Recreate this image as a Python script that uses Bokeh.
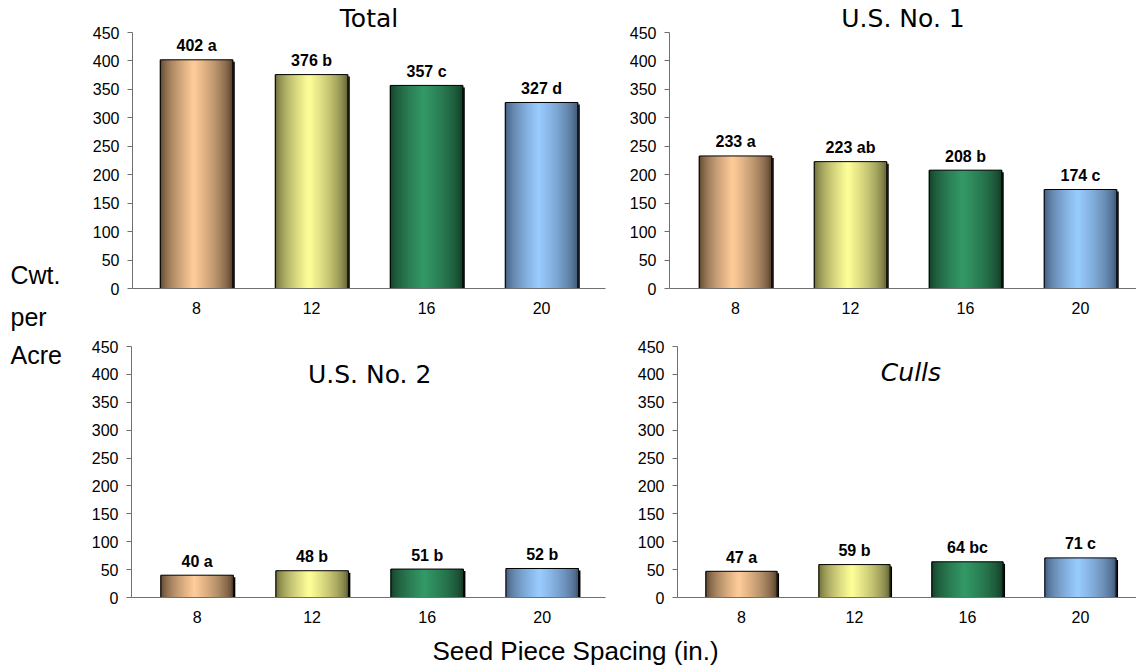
from bokeh.plotting import figure
from bokeh.models import ColumnDataSource, Range1d, FixedTicker, SingleIntervalTicker, Label
from bokeh.layouts import row, column
from bokeh.embed import file_html
from bokeh.resources import INLINE
from bokeh.core.properties import value

# ---------------- data ----------------
spacing = ["8", "12", "16", "20"]
total = [402, 376, 357, 327]
total_sig = ["a", "b", "c", "d"]
us1 = [233, 223, 208, 174]
us1_sig = ["a", "ab", "b", "c"]
us2 = [40, 48, 51, 52]
us2_sig = ["a", "b", "b", "b"]
culls = [47, 59, 64, 71]
culls_sig = ["a", "b", "bc", "c"]
titles = ["Total", "U.S. No. 1", "U.S. No. 2", "Culls"]
y_label_lines = ["Cwt.", "per", "Acre"]
x_label = "Seed Piece Spacing (in.)"
y_max = 450

# ---------------- style ----------------
center_colors = [(255, 204, 153), (255, 255, 153), (51, 153, 102), (153, 204, 255)]
edge_colors = [(76, 57, 38), (92, 92, 48), (18, 55, 36), (60, 82, 112)]
BW = 0.63
NSLICE = 40
AXIS_COLOR = "#707070"
TICK_FONT = "Liberation Sans"
TITLE_FONT = "DejaVu Sans"


def shade(i, t):
    c = center_colors[i]
    e = edge_colors[i]
    peak = 0.47
    d = abs(t - peak) / (peak if t < peak else 1 - peak)
    w = max(0.0, 1 - d) ** 0.6
    r, g, b = (int(round(e[k] + (c[k] - e[k]) * w)) for k in range(3))
    return "#%02x%02x%02x" % (r, g, b)


def panel(vals, sigs, title, italic, width, height, bl, br, bt, bb, x0, x1, title_y=None):
    p = figure(width=width, height=height, x_range=Range1d(x0, x1), y_range=Range1d(0, y_max),
               output_backend="svg", toolbar_location=None, tools="",
               min_border_left=bl, min_border_right=br, min_border_top=bt, min_border_bottom=bb)
    p.outline_line_color = None
    p.xgrid.visible = False
    p.ygrid.visible = False
    p.background_fill_color = "white"
    p.border_fill_color = "white"

    fw = width - bl - br
    fh = height - bt - bb
    dx = 2.0 * (x1 - x0) / fw
    dy = 2.0 * y_max / fh
    idx = list(range(len(vals)))

    # shadow
    p.vbar(x=[i + dx for i in idx], top=[v - dy for v in vals], bottom=0, width=BW,
           fill_color="black", line_color=None)

    # gradient slices
    xs, tops, cols = [], [], []
    for i, v in enumerate(vals):
        for j in range(NSLICE):
            t = (j + 0.5) / NSLICE
            xs.append(i - BW / 2 + t * BW)
            tops.append(v)
            cols.append(shade(i, t))
    src = ColumnDataSource(dict(x=xs, top=tops, color=cols))
    p.vbar(x="x", top="top", bottom=0, width=BW / NSLICE * 1.6, fill_color="color",
           line_color=None, source=src)

    # outline
    p.vbar(x=idx, top=vals, bottom=0, width=BW, fill_color=None, line_color="black", line_width=1)

    # value labels
    p.text(x=idx, y=vals, text=["%d %s" % (v, s) for v, s in zip(vals, sigs)],
           text_align="center", text_baseline="middle", y_offset=-14,
           text_font=value("Liberation Sans"), text_font_style="bold",
           text_font_size="16px", text_color="black")

    # title
    style = "italic" if italic else "normal"
    if title_y is None:
        p.title.text = title
        p.title.align = "center"
        p.title.text_font = TITLE_FONT
        p.title.text_font_size = "25px"
        p.title.text_font_style = style
        p.title.text_color = "black"
        p.title.standoff = 0
    else:
        p.add_layout(Label(x=(len(vals) - 1) / 2, y=title_y, text=title,
                           text_align="center", text_baseline="middle",
                           text_font=TITLE_FONT, text_font_size="25px",
                           text_font_style=style, text_color="black"))

    # axes
    p.yaxis.ticker = SingleIntervalTicker(interval=50)
    p.yaxis.minor_tick_line_color = None
    p.yaxis.major_tick_out = 5
    p.yaxis.major_tick_in = 0
    p.yaxis.major_label_standoff = 8
    p.xaxis.ticker = FixedTicker(ticks=idx)
    p.xaxis.major_label_overrides = {i: s for i, s in enumerate(spacing)}
    p.xaxis.major_tick_out = 0
    p.xaxis.major_tick_in = 0
    p.xaxis.minor_tick_line_color = None
    p.xaxis.major_label_standoff = 13
    for ax in (p.xaxis[0], p.yaxis[0]):
        ax.axis_line_color = AXIS_COLOR
        ax.major_tick_line_color = AXIS_COLOR
        ax.major_label_text_font = TICK_FONT
        ax.major_label_text_font_size = "16px"
        ax.major_label_text_color = "black"
    return p


f1 = panel(total, total_sig, titles[0], False, 532, 320, 52, 7, 32, 32, -0.557, 3.556)
f2 = panel(us1, us1_sig, titles[1], False, 524, 320, 57, 0, 32, 32, -0.574, 3.487)
f3 = panel(us2, us2_sig, titles[2], False, 532, 310, 51, 7, 26, 33, -0.570, 3.550, 400)
f4 = panel(culls, culls_sig, titles[3], True, 524, 310, 65, 0, 24, 33, -0.566, 3.496, 404)

# left axis title
fl = figure(width=80, height=630, x_range=Range1d(0, 80), y_range=Range1d(630, 0),
            output_backend="svg", toolbar_location=None, tools="",
            x_axis_type=None, y_axis_type=None,
            min_border_left=0, min_border_right=0, min_border_top=0, min_border_bottom=0)
fl.outline_line_color = None
fl.text(x=[10, 10, 10], y=[274, 316, 354], text=y_label_lines, text_align="left",
        text_baseline="middle", text_font=value("Liberation Sans"),
        text_font_size="25px", text_color="black")

# bottom axis title
fb = figure(width=1136, height=36, x_range=Range1d(0, 1136), y_range=Range1d(36, 0),
            output_backend="svg", toolbar_location=None, tools="",
            x_axis_type=None, y_axis_type=None,
            min_border_left=0, min_border_right=0, min_border_top=0, min_border_bottom=0)
fb.outline_line_color = None
fb.text(x=[575], y=[20], text=[x_label], text_align="center", text_baseline="middle",
        text_font=value("Liberation Sans"), text_font_size="26px", text_color="black")

layout = column(row(fl, column(row(f1, f2), row(f3, f4))), fb)
open("out.html", "w").write(file_html(layout, INLINE))
